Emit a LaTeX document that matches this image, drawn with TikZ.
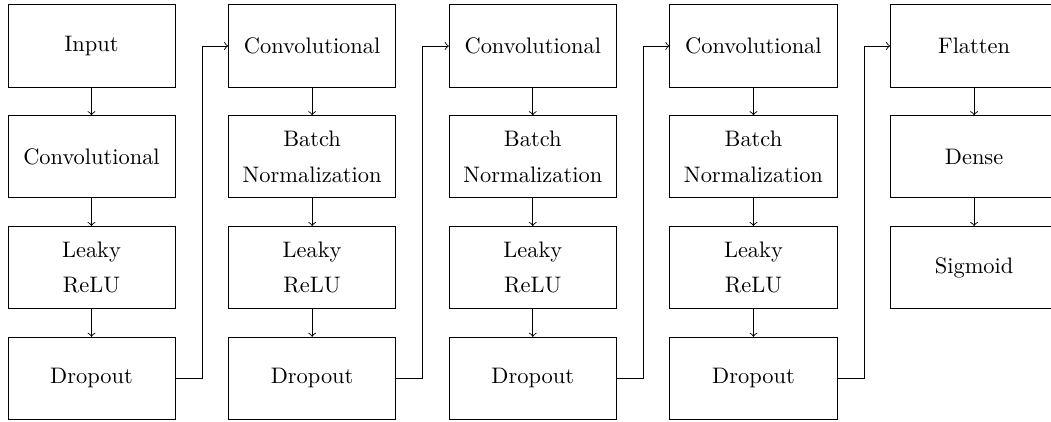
\documentclass[tikz,border=0pt]{standalone}
\usetikzlibrary{positioning}
\tikzset{layer/.style={draw,minimum width=74.5pt,minimum height=36.6pt,align=center}}
\begin{document}
\begin{tikzpicture}[node distance=12.4pt and 23.5pt]
		\useasboundingbox (-40.8pt,20.5pt) rectangle (427.9pt,-167.3pt);
		
		% first block
		\node[layer] (in) at (0,0) {Input};
		\node[layer,below=of in] (cv1) {Convolutional};
		\node[layer,below=of cv1] (lr1) {Leaky\\[4pt]ReLU};
		\node[layer,below=of lr1] (dr1) {Dropout};
		
		% middle blocks
		\node[layer,right=of in] (cv2) {Convolutional};
		\node[layer,below=of cv2] (bn2) {Batch\\[4pt]Normalization};
		\node[layer,below=of bn2] (lr2) {Leaky\\[4pt]ReLU};
		\node[layer,below=of lr2] (dr2) {Dropout};
		
		\node[layer,right=of cv2] (cv3) {Convolutional};
		\node[layer,below=of cv3] (bn3) {Batch\\[4pt]Normalization};
		\node[layer,below=of bn3] (lr3) {Leaky\\[4pt]ReLU};
		\node[layer,below=of lr3] (dr3) {Dropout};
		
		\node[layer,right=of cv3] (cv4) {Convolutional};
		\node[layer,below=of cv4] (bn4) {Batch\\[4pt]Normalization};
		\node[layer,below=of bn4] (lr4) {Leaky\\[4pt]ReLU};
		\node[layer,below=of lr4] (dr4) {Dropout};
		
		% output block
		\node[layer,right=of cv4] (fl) {Flatten};
		\node[layer,below=of fl] (de) {Dense};
		\node[layer,below=of de] (sg) {Sigmoid};
		
		\draw[->] (in) -- (cv1);
		\draw[->] (cv1) -- (lr1);
		\draw[->] (lr1) -- (dr1);
		\draw[->] (dr1.east) -- ++(11.9pt,0) |- (cv2.west);
		
		\draw[->] (cv2) -- (bn2);
		\draw[->] (bn2) -- (lr2);
		\draw[->] (lr2) -- (dr2);
		\draw[->] (dr2.east) -- ++(11.9pt,0) |- (cv3.west);
		
		\draw[->] (cv3) -- (bn3);
		\draw[->] (bn3) -- (lr3);
		\draw[->] (lr3) -- (dr3);
		\draw[->] (dr3.east) -- ++(11.9pt,0) |- (cv4.west);
		
		\draw[->] (cv4) -- (bn4);
		\draw[->] (bn4) -- (lr4);
		\draw[->] (lr4) -- (dr4);
		\draw[->] (dr4.east) -- ++(11.9pt,0) |- (fl.west);
		
		\draw[->] (fl) -- (de);
		\draw[->] (de) -- (sg);
		\end{tikzpicture}
\end{document}
